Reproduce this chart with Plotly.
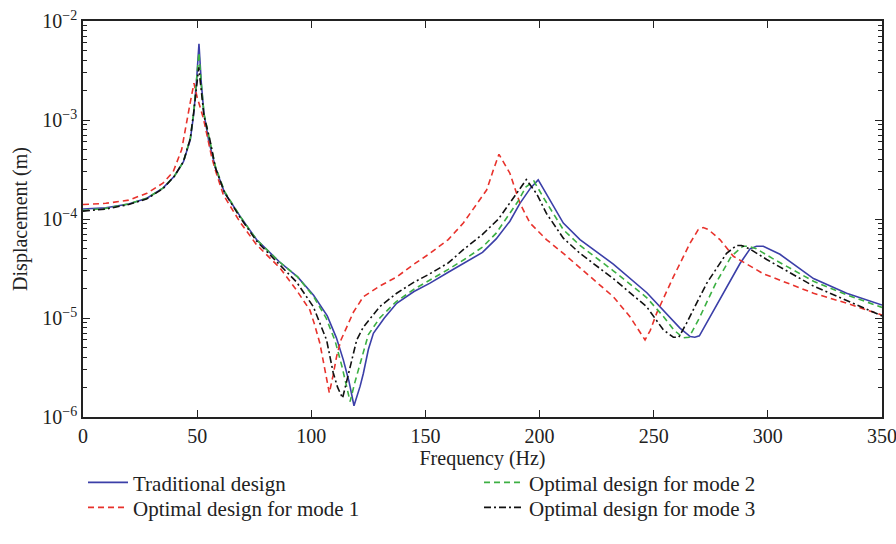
import plotly.graph_objects as go

# ---- Traditional design (blue solid)
f_trad = [0, 10, 20, 28, 35, 40, 44, 47, 48.5, 49.7, 50.8, 51.8, 53, 55, 58, 62, 69, 76, 86, 94, 101, 107, 111,
          114, 116.5, 118.7, 121.4, 122.8, 125, 127.2, 132, 137.4, 145, 152, 160, 166.6, 175, 181, 187, 191.4,
          196, 199.4, 204.5, 210.4, 217.7, 232.3, 247, 254, 261.5, 266, 268, 270, 273.2, 280.5, 287.8, 292.2,
          295, 298, 305.3, 320, 334.5, 350]
d_trad = [1.26e-4, 1.3e-4, 1.42e-4, 1.62e-4, 2.05e-4, 2.7e-4, 3.8e-4, 6.3e-4, 1.15e-3, 2.4e-3, 5.9e-3, 2.4e-3,
          1.15e-3, 6.3e-4, 3.3e-4, 1.85e-4, 1.05e-4, 6.2e-5, 3.7e-5, 2.6e-5, 1.7e-5, 1.05e-5, 6.3e-6,
          3.8e-6, 2.3e-6, 1.3e-6, 2.05e-6, 2.75e-6, 4.8e-6, 7.0e-6, 1.0e-5, 1.41e-5, 1.85e-5, 2.25e-5, 2.9e-5,
          3.55e-5, 4.6e-5, 6.3e-5, 9.5e-5, 1.44e-4, 2.05e-4, 2.48e-4, 1.55e-4, 9.1e-5, 6.2e-5, 3.5e-5,
          1.8e-5, 1.2e-5, 7.9e-6, 6.5e-6, 6.4e-6, 6.6e-6, 8.9e-6, 1.78e-5, 3.55e-5, 5.0e-5,
          5.3e-5, 5.3e-5, 4.4e-5, 2.5e-5, 1.78e-5, 1.35e-5]

# ---- Optimal design for mode 1 (red dashed)
f_m1 = [0, 10, 20, 28, 35, 39.5, 43.2, 45.4, 47.2, 48.6, 50, 52.7, 54.5, 56.4, 58, 61.5, 68.8, 76, 86.3, 93.6,
        99.4, 101.5, 103.8, 106.7, 107.9, 109.5, 111.1, 113, 115.5, 118.5, 122.8, 130, 137.4, 145, 152, 160,
        166.6, 172, 176.8, 179.7, 182.2, 187, 191.4, 195.8, 203, 210.4, 221.3, 232.3, 239.6, 243.5, 246.2,
        248.5, 251.3, 258.6, 265.9, 269.5, 271.7, 274, 279, 284.9, 298, 320, 335, 350]
d_m1 = [1.40e-4, 1.44e-4, 1.55e-4, 1.82e-4, 2.3e-4, 3.0e-4, 5.0e-4, 1.0e-3, 1.6e-3, 2.35e-3, 1.7e-3, 1.05e-3,
        6.5e-4, 4.2e-4, 3.1e-4, 1.75e-4, 9.3e-5, 5.5e-5, 3.2e-5, 1.9e-5,
        1.2e-5, 8.5e-6, 5.5e-6, 2.6e-6, 1.75e-6, 2.6e-6, 4.1e-6, 6.0e-6, 8.1e-6, 1.15e-5, 1.64e-5, 2.1e-5,
        2.6e-5, 3.5e-5, 4.5e-5, 6.2e-5, 9.1e-5, 1.35e-4, 1.96e-4, 3.1e-4, 4.5e-4, 2.9e-4, 1.44e-4, 9.1e-5,
        6.2e-5, 4.5e-5, 2.7e-5, 1.64e-5, 1.03e-5, 7.5e-6, 6.0e-6,
        7.5e-6, 1.12e-5, 2.6e-5, 5.7e-5, 7.8e-5, 8.2e-5, 7.8e-5, 6.2e-5, 4.2e-5, 2.8e-5, 1.78e-5, 1.4e-5, 1.07e-5]

# ---- Optimal design for mode 2 (green dashed)
f_m2 = [0, 10, 20, 28, 35, 40, 44, 47, 48.5, 49.7, 50.8, 51.8, 53, 55.5, 58, 62, 69, 76, 86, 94, 101, 106.5,
        110.5, 113.5, 115.5, 117, 119, 121.5, 125, 130, 137, 145, 152, 160, 167, 175, 181, 186, 190.5, 194,
        197.5, 202, 206, 210.4, 217.7, 232.3, 247, 254, 259, 263, 265.5, 270, 277, 284, 289, 291.5, 295, 302,
        320, 335, 350]
d_m2 = [1.22e-4, 1.28e-4, 1.42e-4, 1.62e-4, 2.05e-4, 2.7e-4, 3.8e-4, 6.5e-4, 1.2e-3, 2.4e-3, 4.8e-3, 2.3e-3,
        1.15e-3, 6.3e-4, 3.4e-4, 1.9e-4, 1.05e-4, 6.2e-5, 3.7e-5, 2.6e-5, 1.65e-5, 1.0e-5,
        5.8e-6, 3.2e-6, 2.0e-6, 1.43e-6, 2.2e-6, 3.6e-6, 6.8e-6, 1.0e-5, 1.45e-5, 1.95e-5, 2.4e-5, 3.1e-5,
        3.9e-5, 5.2e-5, 7.2e-5, 1.05e-4, 1.5e-4, 2.1e-4,
        2.42e-4, 1.6e-4, 1.15e-4, 7.8e-5, 5.4e-5, 3.0e-5, 1.6e-5, 1.05e-5, 7.5e-6, 6.3e-6, 6.4e-6, 1.0e-5,
        2.2e-5, 4.2e-5, 5.3e-5, 5.3e-5, 5.0e-5, 4.0e-5,
        2.35e-5, 1.7e-5, 1.28e-5]

# ---- Optimal design for mode 3 (black dash-dot)
f_m3 = [0, 10, 20, 28, 35, 40, 44, 47, 48.5, 49.7, 50.7, 51.8, 53, 55.6, 58, 62, 69, 76, 86, 93.6, 100.9,
        106.7, 109.6, 111.5, 113.7, 115.5, 117, 119.9, 122.8, 130, 137.4, 145, 152, 160, 166.6, 175, 182, 186,
        189.9, 192.5, 194.2, 198.7, 203, 210.4, 217.7, 232.3, 246.9, 254.2, 258.6, 261, 264.4, 273.2, 281.9,
        286.3, 288.5, 292, 299.5, 320, 334.5, 350]
d_m3 = [1.2e-4, 1.26e-4, 1.4e-4, 1.6e-4, 2.02e-4, 2.7e-4, 3.8e-4, 6.5e-4, 1.2e-3, 2.2e-3, 3.4e-3, 2.0e-3,
        1.1e-3, 6.3e-4, 3.3e-4, 1.85e-4, 1.02e-4, 6.0e-5, 3.5e-5, 2.3e-5, 1.3e-5,
        6.0e-6, 2.8e-6, 2.0e-6, 1.55e-6, 2.3e-6, 3.2e-6, 6.0e-6, 8.1e-6, 1.3e-5, 1.78e-5, 2.3e-5, 2.8e-5,
        3.6e-5, 4.9e-5, 7e-5, 1.0e-4, 1.35e-4,
        1.8e-4, 2.2e-4, 2.5e-4, 1.8e-4, 1.14e-4, 6.4e-5, 4.5e-5, 2.5e-5, 1.3e-5, 7.6e-6, 6.4e-6, 6.4e-6,
        8.9e-6, 2.24e-5, 4.5e-5,
        5.4e-5, 5.4e-5, 5.0e-5, 3.9e-5, 2.1e-5, 1.5e-5, 1.05e-5]

x_ticks = [0, 50, 100, 150, 200, 250, 300, 350]
y_tickvals = [1e-6, 1e-5, 1e-4, 1e-3, 1e-2]
y_ticktext = ["10<sup>−6</sup>", "10<sup>−5</sup>", "10<sup>−4</sup>", "10<sup>−3</sup>", "10<sup>−2</sup>"]
y_minor = [m * 10.0 ** e for e in range(-6, -2) for m in range(2, 10)]

FONT = "Liberation Serif"

fig = go.Figure()
fig.add_trace(go.Scatter(x=f_trad, y=d_trad, mode="lines", name="Traditional design",
                         line=dict(color="#3b3fa8", width=1.6), legend="legend", legendrank=1))
fig.add_trace(go.Scatter(x=f_m1, y=d_m1, mode="lines", name="Optimal design for mode 1",
                         line=dict(color="#e8322c", width=1.6, dash="6px,4px"), legend="legend2", legendrank=1))
fig.add_trace(go.Scatter(x=f_m2, y=d_m2, mode="lines", name="Optimal design for mode 2",
                         line=dict(color="#3cb043", width=1.6, dash="6px,4px"), legend="legend", legendrank=2))
fig.add_trace(go.Scatter(x=f_m3, y=d_m3, mode="lines", name="Optimal design for mode 3",
                         line=dict(color="#111111", width=1.6, dash="7px,3px,2px,3px"), legend="legend2",
                         legendrank=2))

leg_common = dict(orientation="h", x=0.0, xanchor="left", yanchor="middle",
                  entrywidth=341, itemwidth=40, tracegroupgap=0,
                  font=dict(family=FONT, size=21, color="#222222"),
                  bgcolor="rgba(0,0,0,0)")

fig.update_layout(
    width=896, height=544,
    margin=dict(l=83, r=14, t=21, b=127, autoexpand=False),
    paper_bgcolor="white", plot_bgcolor="white",
    font=dict(family=FONT, size=20, color="#222222"),
    showlegend=True,
    legend=dict(y=-0.166, **leg_common),
    legend2=dict(y=-0.229, **leg_common),
    annotations=[dict(text="Displacement (m)", xref="paper", yref="paper", x=-0.079, y=0.5,
                      xanchor="center", yanchor="middle", textangle=-90, showarrow=False,
                      font=dict(family=FONT, size=20, color="#222222"))],
)
fig.update_xaxes(range=[0, 350], tickvals=x_ticks, ticks="inside", ticklen=7, tickwidth=1,
                 tickcolor="#222222", showline=True, linecolor="#222222", linewidth=1.5,
                 mirror="ticks", showgrid=False, zeroline=False, ticklabeloverflow="allow",
                 tickfont=dict(family=FONT, size=20),
                 title=dict(text="Frequency (Hz)", font=dict(family=FONT, size=20), standoff=4))
fig.update_yaxes(type="log", range=[-6, -2], tickvals=y_tickvals, ticktext=y_ticktext,
                 ticks="inside", ticklen=7, tickwidth=1, tickcolor="#222222",
                 minor=dict(tickvals=y_minor, ticks="inside", ticklen=4, tickcolor="#222222", showgrid=False),
                 showline=True, linecolor="#222222", linewidth=1.5, mirror="ticks",
                 showgrid=False, zeroline=False,
                 tickfont=dict(family=FONT, size=20))

fig.write_html("out.html")
